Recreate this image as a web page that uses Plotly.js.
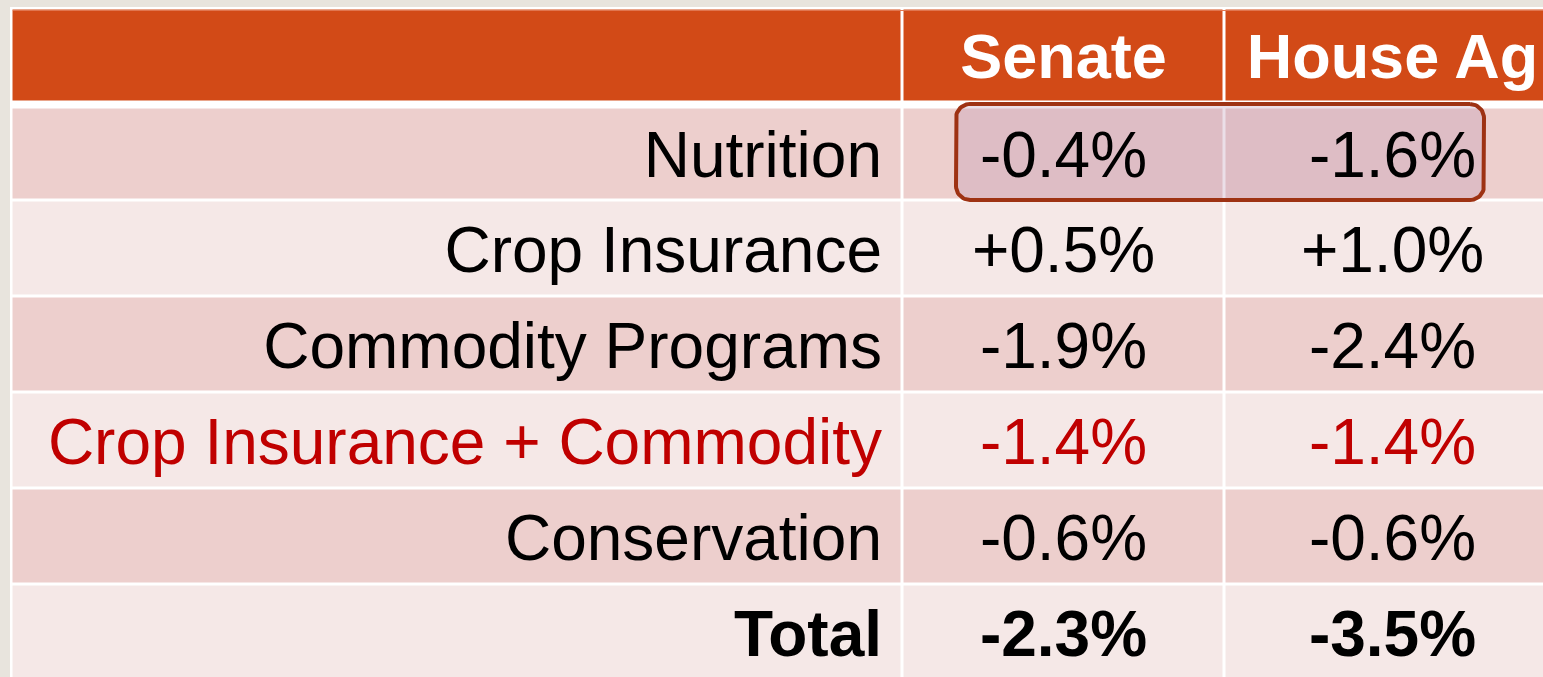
<!DOCTYPE html>
<html>
<head>
<meta charset="utf-8">
<script src="https://cdn.plot.ly/plotly-3.0.1.min.js"></script>
<style>
html,body{margin:0;padding:0;overflow:hidden;background:#E8E4DD;}
#chart{width:1543px;height:677px;}
</style>
</head>
<body>
<div id="chart"></div>
<script>
// ---- data ----
const columns = ["", "Senate", "House Ag"];
const rowLabels = ["Nutrition", "Crop Insurance", "Commodity Programs", "Crop Insurance + Commodity", "Conservation", "Total"];
const senate = [-0.4, 0.5, -1.9, -1.4, -0.6, -2.3];
const houseAg = [-1.6, 1.0, -2.4, -1.4, -0.6, -3.5];
const emphasisRow = "Crop Insurance + Commodity";
const totalRow = "Total";
const highlightRow = "Nutrition";

// ---- layout geometry ----
const W = 1543, H = 677;
const colEdges = [11.5, 902.5, 1224.5, 1560.5];
const headerEdges = [8.5, 102.5];
const bodyEdges = [107.5, 200.5, 296.5, 392.5, 488.5, 584.5, 680.5];
const GAP = 3;
const FONT = '"Liberation Sans", Arial, sans-serif';
const ORANGE = '#D24A17', DARK = '#EDCFCD', LIGHT = '#F5E8E7';
const RED = '#C00000';

function fmt(v){ return (v > 0 ? '+' : (v < 0 ? '-' : '')) + Math.abs(v).toFixed(1) + '%'; }

// heatmap for cell fills
const yEdges = headerEdges.concat(bodyEdges);
const z = [[2, 2, 2], [null, null, null]].concat(rowLabels.map((_, i) => {
  const s = i % 2; return [s, s, s];
}));
const cells = {
  type: 'heatmap', x: colEdges, y: yEdges, z: z,
  zmin: 0, zmax: 2,
  colorscale: [[0, DARK], [0.5, LIGHT], [1, ORANGE]],
  showscale: false, xgap: GAP, ygap: GAP, hoverinfo: 'skip'
};

// highlight rounded rectangle
const hi = rowLabels.indexOf(highlightRow);
const hx0 = colEdges[1] + 53.5, hx1 = colEdges[3] - 76.5;
const hy0 = headerEdges[1] + 1.5, hy1 = bodyEdges[hi + 1] - 0.5;
const rad = 14;
function roundRect(x0, x1, y0, y1, r){
  const xs = [], ys = [];
  const corners = [[x1 - r, y0 + r, -90], [x1 - r, y1 - r, 0], [x0 + r, y1 - r, 90], [x0 + r, y0 + r, 180]];
  corners.forEach(c => {
    for (let k = 0; k <= 12; k++) {
      const a = (c[2] + k * 90 / 12) * Math.PI / 180;
      xs.push(c[0] + r * Math.cos(a)); ys.push(c[1] + r * Math.sin(a));
    }
  });
  xs.push(xs[0]); ys.push(ys[0]);
  return {xs, ys};
}
const rr = roundRect(hx0, hx1, hy0, hy1, rad);
const highlight = {
  type: 'scatter', mode: 'lines', x: rr.xs, y: rr.ys, fill: 'toself',
  fillcolor: 'rgba(190,150,180,0.30)', line: {color: '#9E3213', width: 4},
  hoverinfo: 'skip'
};

// text
const rowCenters = rowLabels.map((_, i) => (bodyEdges[i] + bodyEdges[i + 1]) / 2);
const labelX = colEdges[1] - GAP / 2 - 19;
const senX = (colEdges[1] + colEdges[2]) / 2;
const houseX = (colEdges[2] + colEdges[3]) / 2;
const colorOf = l => l === emphasisRow ? RED : '#000000';
const wrap = (l, t) => l === totalRow ? '<b>' + t + '</b>' : t;
const DY = 7;

const labelTrace = {
  type: 'scatter', mode: 'text', x: rowLabels.map(() => labelX), y: rowCenters.map(c => c + DY),
  text: rowLabels.map(l => wrap(l, l)), textposition: 'middle left',
  textfont: {family: FONT, size: 64, color: rowLabels.map(colorOf)}, hoverinfo: 'skip'
};
const senTrace = {
  type: 'scatter', mode: 'text', x: rowLabels.map(() => senX), y: rowCenters.map(c => c + DY),
  text: senate.map((v, i) => wrap(rowLabels[i], fmt(v))), textposition: 'middle center',
  textfont: {family: FONT, size: 64, color: rowLabels.map(colorOf)}, hoverinfo: 'skip'
};
const houseTrace = {
  type: 'scatter', mode: 'text', x: rowLabels.map(() => houseX), y: rowCenters.map(c => c + DY),
  text: houseAg.map((v, i) => wrap(rowLabels[i], fmt(v))), textposition: 'middle center',
  textfont: {family: FONT, size: 64, color: rowLabels.map(colorOf)}, hoverinfo: 'skip'
};
const headCenter = (headerEdges[0] + headerEdges[1]) / 2;
const headerTrace = {
  type: 'scatter', mode: 'text', x: [senX, houseX], y: [headCenter + DY, headCenter + DY],
  text: columns.slice(1).map(c => '<b>' + c + '</b>'), textposition: 'middle center',
  textfont: {family: FONT, size: 63, color: '#FFFFFF'}, hoverinfo: 'skip'
};

const layout = {
  width: W, height: H, margin: {l: 0, r: 0, t: 0, b: 0, pad: 0},
  paper_bgcolor: '#E8E4DD', plot_bgcolor: '#E8E4DD', showlegend: false,
  xaxis: {range: [0, W], visible: false, fixedrange: true},
  yaxis: {range: [H, 0], visible: false, fixedrange: true},
  shapes: [
    {type: 'rect', xref: 'x', yref: 'y', x0: colEdges[0] - 1.5, x1: colEdges[3] + 10, y0: headerEdges[0] - 1.5, y1: H + 20,
     fillcolor: '#FFFFFF', line: {width: 0}, layer: 'below'},
    {type: 'line', xref: 'x', yref: 'y', x0: colEdges[0] + 1.5, x1: colEdges[3], y0: headerEdges[0] + 2, y1: headerEdges[0] + 2,
     line: {color: '#E07650', width: 1}, layer: 'above'}
  ]
};

Plotly.newPlot('chart', [cells, highlight, labelTrace, senTrace, houseTrace, headerTrace], layout,
  {staticPlot: true, displayModeBar: false});
</script>
</body>
</html>
